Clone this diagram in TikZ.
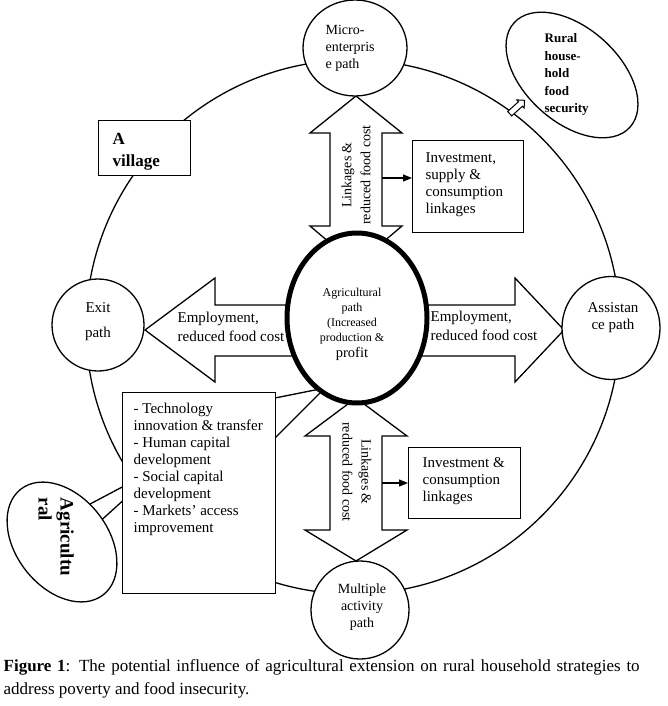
\documentclass[tikz,border=0pt]{standalone}
\usepackage{fontspec}
\setmainfont{Liberation Serif}
\usetikzlibrary{shapes.geometric,shapes.arrows,arrows.meta,calc}
\newcommand{\fsz}[2]{\fontsize{#1}{#2}\selectfont}
\begin{document}
\begin{tikzpicture}[x=1pt,y=-1pt,line width=1.3pt,
  blk/.style={draw,fill=white},
  pathc/.style={circle,draw,fill=white,inner sep=0pt},
  pathe/.style={ellipse,draw,fill=white,inner sep=0pt},
  boxn/.style={draw,fill=white,inner sep=0pt,anchor=north west},
  txt/.style={inner sep=0pt,align=left,font=\fsz{15}{17}},
  ctxt/.style={inner sep=0pt,align=center,font=\fsz{15}{17}},
  tip/.style={-{Triangle[length=9pt,width=7pt]},line width=1.2pt}]
\useasboundingbox (0,0) rectangle (667,706);

% village ring
\draw (353,327) circle[radius=267pt];

% block arrows
\draw[blk] (356,96) -- (402,133) -- (382,133) -- (382,226) -- (402,226) -- (356,265)
  -- (310,226) -- (330,226) -- (330,133) -- (310,133) -- cycle;
\draw[blk] (356,398) -- (407,436) -- (382,436) -- (382,530) -- (407,530) -- (356,561)
  -- (305,530) -- (330,530) -- (330,436) -- (305,436) -- cycle;
\draw[blk] (145,330) -- (215,278) -- (215,305) -- (300,305) -- (300,356) -- (215,356)
  -- (215,382) -- cycle;
\draw[blk] (564,330) -- (515,278) -- (515,305) -- (410,305) -- (410,356) -- (515,356)
  -- (515,382) -- cycle;

% callout wedges
\draw[blk] (270,399) -- (325,388) -- (270,443) -- cycle;
\draw[blk] (160,467) -- (75,512) -- (85,535) -- cycle;

% central ring
\node[pathe,line width=5pt,minimum width=140pt,minimum height=170pt] (ring) at (357,318) {};

% path circles
\node[pathe,minimum width=104pt,minimum height=96pt] (micro) at (355,48) {};
\node[pathc,minimum size=92pt] (exitp) at (98,325) {};
\node[pathe,minimum width=98pt,minimum height=103pt] (assist) at (611,328) {};
\node[pathc,minimum size=98pt] (multi) at (360,610) {};

% boxes
\node[boxn,minimum width=111pt,minimum height=92pt] (box1) at (412,140) {};
\node[boxn,minimum width=112pt,minimum height=71pt] (box2) at (408,447) {};
\node[boxn,minimum width=92pt,minimum height=55pt] (village) at (98,120) {};
\node[boxn,minimum width=153pt,minimum height=201pt] (listbox) at (122,392) {};

% ellipses
\node[pathe,minimum width=134pt,minimum height=92pt,rotate=-52] (agell) at (62,542) {};
\node[pathe,minimum width=156pt,minimum height=94pt,rotate=-42] (rural) at (572,75) {};
\node[single arrow,draw,fill=white,line width=1pt,rotate=42,minimum height=20pt,
  inner sep=2.5pt,single arrow head extend=2.5pt] (rarr) at (516,108) {};

% linkage arrows
\coordinate (t1) at (382,178);
\draw[tip] (t1) -- (t1 -| box1.west);
\coordinate (t2) at (382,483);
\draw[tip] (t2) -- (t2 -| box2.west);

% texts
\node[txt,anchor=north west,font=\fsz{14}{17}] at (325,25) {Micro-\\enterpris\\e path};
\node[txt,anchor=north west,font=\bfseries\fsz{13}{17.5}] at (544,33) {Rural\\house-\\hold\\food\\security};
\node[txt,anchor=north west,font=\bfseries\fsz{17}{22}] at (112,133) {A\\village};
\node[txt,anchor=north west] at (425,152) {Investment,\\supply \&\\consumption\\linkages};
\node[txt,anchor=north west] at (422,457) {Investment \&\\consumption\\linkages};
\node[ctxt,anchor=north,font=\fsz{15}{25}] at (98,302) {Exit\\path};
\node[ctxt,anchor=north] at (613,302) {Assistan\\ce path};
\node[ctxt,anchor=north,font=\fsz{14}{17}] at (362,583) {Multiple\\activity\\path};
\node[ctxt,anchor=north,font=\fsz{12}{15}] at (352,288) {Agricultural\\path\\(Increased\\production \&\\[1pt]{\fsz{14.5}{17}profit}};
\node[txt,anchor=north west,font=\fsz{15}{19}] at (177,311) {Employment,\\reduced food cost};
\node[txt,anchor=north west,font=\fsz{15}{19}] at (430,310) {Employment,\\reduced food cost};
\node[txt,anchor=north west] at (133,402) {- Technology\\innovation \& transfer\\- Human capital\\development\\- Social capital\\development\\- Markets' access\\improvement};
\node[txt,rotate=-90,font=\bfseries\fsz{19}{22}] at (56,537) {Agricultu\\ral};
\node[ctxt,rotate=90,font=\fsz{14}{19}] at (356,175) {Linkages \&\\reduced food cost};
\node[ctxt,rotate=-90,font=\fsz{14}{19}] at (357,472) {Linkages \&\\reduced food cost};

% caption
\node[anchor=north west,inner sep=0pt,text width=636pt,align=justify,font=\fsz{17}{23}] (cap) at (3,659)
  {\textbf{Figure 1}: The potential influence of agricultural extension on rural household strategies to address poverty and food insecurity.};
\end{tikzpicture}
\end{document}
